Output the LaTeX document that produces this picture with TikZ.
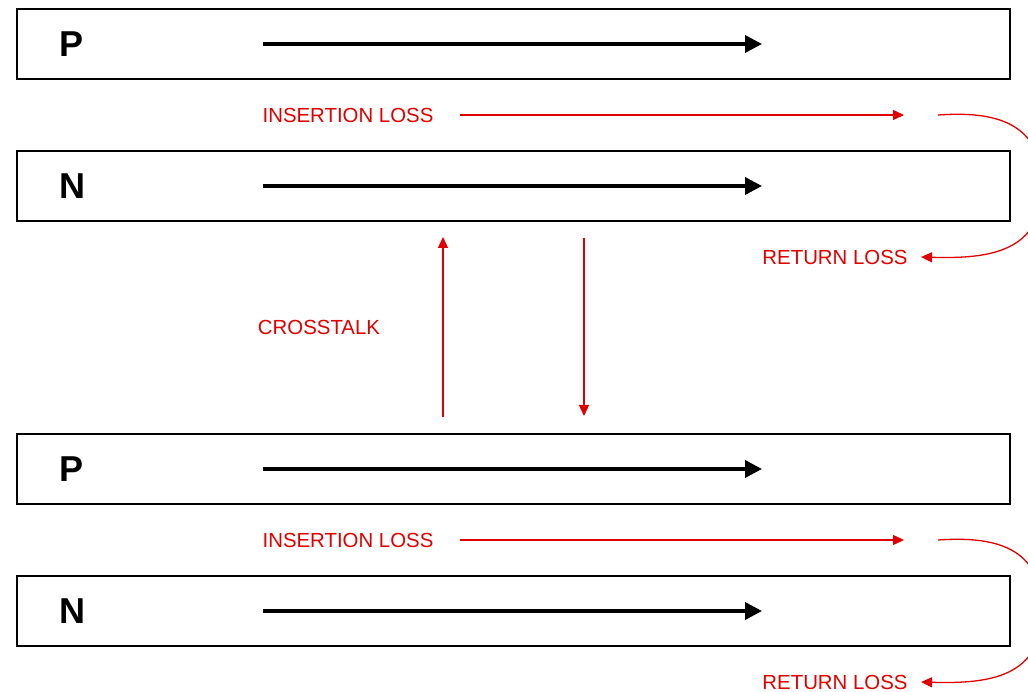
\documentclass[tikz,border=0pt]{standalone}
\usepackage{fontspec}
\setmainfont{Liberation Sans}
\usetikzlibrary{arrows.meta}
\definecolor{lossred}{HTML}{E00000}

\begin{document}
\begin{tikzpicture}[
  x=1pt, y=-1pt,
  lane/.style={draw=black, line width=1.6pt, minimum width=993pt, minimum height=70pt, inner sep=0pt},
  pol/.style={font=\fontsize{36}{36}\selectfont\bfseries},
  sig/.style={-{Triangle[length=17pt,width=17pt]}, line width=3.6pt},
  loss/.style={-{Triangle[length=11pt,width=10pt]}, draw=lossred, line width=1.3pt},
  lbl/.style={text=lossred, font=\fontsize{20.4}{20.4}\selectfont}
]
\useasboundingbox (0,0) rectangle (1028,692);
% two differential pairs, the second one shifted down
\foreach \g/\dy in {a/0,b/425}{
  \node[lane] (p\g) at (513.5,44+\dy) {};
  \node[lane] (n\g) at (513.5,186+\dy) {};
  \node[pol] (pl\g) at (72,44+\dy) {P};
  \node[pol] (nl\g) at (72,186+\dy) {N};
  \coordinate (ps\g) at (263,44+\dy);
  \coordinate (pe\g) at (762,44+\dy);
  \coordinate (ns\g) at (263,186+\dy);
  \coordinate (ne\g) at (762,186+\dy);
  \draw[sig] (ps\g) -- (pe\g);
  \draw[sig] (ns\g) -- (ne\g);
  % insertion and return loss
  \node[lbl] (il\g) at (348,115+\dy) {INSERTION LOSS};
  \coordinate (is\g) at (460,115+\dy);
  \coordinate (ie\g) at (904,115+\dy);
  \draw[loss] (is\g) -- (ie\g);
  \node[lbl] (rl\g) at (835,257+\dy) {RETURN LOSS};
  \coordinate (rs\g) at (938,115+\dy);
  \coordinate (re\g) at (921,257+\dy);
  \draw[loss] (rs\g) .. controls (995,111+\dy) and (1042,122+\dy) .. (1042,186+\dy)
    .. controls (1042,252+\dy) and (990,259+\dy) .. (re\g);
}
% crosstalk between the pairs
\node[lbl] (xt) at (319,327) {CROSSTALK};
\coordinate (xu0) at (443,417);
\coordinate (xu1) at (443,237);
\coordinate (xd0) at (584,238);
\coordinate (xd1) at (584,416);
\draw[loss] (xu0) -- (xu1);
\draw[loss] (xd0) -- (xd1);
\end{tikzpicture}
\end{document}
